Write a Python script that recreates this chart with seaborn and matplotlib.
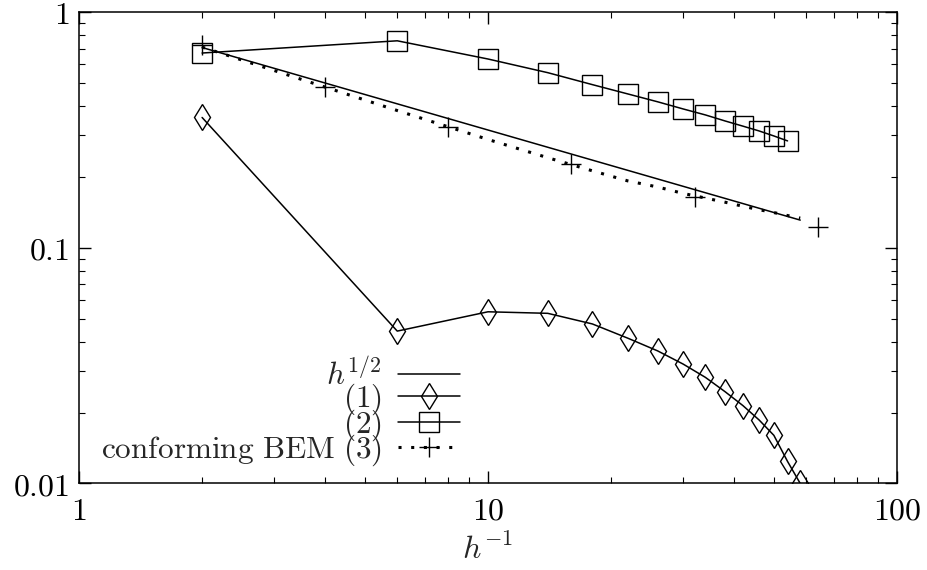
import numpy as np
import seaborn as sns
import matplotlib
matplotlib.use('Agg')
import matplotlib.pyplot as plt
from matplotlib.lines import Line2D
from matplotlib.ticker import NullFormatter, LogLocator

# h^{-1} values and errors
x_step4 = [2, 6, 10, 14, 18, 22, 26, 30, 34, 38, 42, 46, 50, 54, 58]
err_1 = [0.357, 0.0443, 0.0535, 0.0527, 0.0475, 0.0413, 0.0365, 0.0321,
         0.0282, 0.0245, 0.0214, 0.0186, 0.0160, 0.0124, 0.0100]
x_sq = [2, 6, 10, 14, 18, 22, 26, 30, 34, 38, 42, 46, 50, 54]
err_2 = [0.670, 0.755, 0.632, 0.553, 0.492, 0.449, 0.416, 0.388,
         0.366, 0.345, 0.328, 0.313, 0.298, 0.284]
err_3_line = [0.710, 0.382, 0.288, 0.241, 0.212, 0.192, 0.181, 0.170,
              0.1625, 0.156, 0.150, 0.145, 0.141, 0.137, 0.1336]
x_bem = [2, 4, 8, 16, 32, 64]
err_bem = [0.724, 0.479, 0.324, 0.2265, 0.164, 0.1225]
x_ref = [2, 58]
ref_half = [0.707, 0.131]

labels = [r'$h^{1/2}$', r'$(1)$', r'$(2)$', r'$\mathrm{conforming\ BEM\ (3)}$']

sns.set_style('ticks')
plt.rcParams['mathtext.fontset'] = 'cm'
plt.rcParams['font.family'] = ['DejaVu Serif']
plt.rcParams['axes.linewidth'] = 1.1

fig = plt.figure(figsize=(9.28, 5.70), dpi=100)
ax = fig.add_axes([0.0851, 0.1518, 0.8815, 0.8271])

lw = 1.1
dots = (0, (1.0, 3.15))
sns.lineplot(x=x_ref, y=ref_half, color='k', lw=lw, estimator=None, ax=ax)
sns.lineplot(x=x_step4, y=err_1, color='k', lw=lw, estimator=None, ax=ax,
             marker='d', markersize=12.9, markerfacecolor='none',
             markeredgecolor='k', markeredgewidth=1.0)
sns.lineplot(x=x_sq, y=err_2, color='k', lw=lw, estimator=None, ax=ax,
             marker='s', markersize=14.4, markerfacecolor='none',
             markeredgecolor='k', markeredgewidth=1.0)
sns.lineplot(x=x_step4, y=err_3_line, color='k', lw=2.2, estimator=None, ax=ax,
             linestyle=dots)
sns.scatterplot(x=x_bem, y=err_bem, color='k', marker='+', s=210,
                linewidth=1.0, ax=ax)

ax.set_xscale('log')
ax.set_yscale('log')
ax.set_xlim(1, 100)
ax.set_ylim(0.01, 1)
ax.set_xticks([1, 10, 100], labels=[r'$1$', r'$10$', r'$100$'])
ax.set_yticks([0.01, 0.1, 1], labels=[r'$0.01$', r'$0.1$', r'$1$'])
ax.xaxis.set_minor_locator(LogLocator(base=10, subs=np.arange(2, 10)))
ax.yaxis.set_minor_locator(LogLocator(base=10, subs=np.arange(2, 10)))
ax.xaxis.set_minor_formatter(NullFormatter())
ax.yaxis.set_minor_formatter(NullFormatter())
ax.tick_params(which='both', direction='in', top=True, right=True,
               labelsize=23, colors='k')
ax.tick_params(which='major', length=8.6, width=1.0)
ax.tick_params(which='minor', length=4.3, width=0.8)
ax.tick_params(axis='x', which='major', pad=9)
ax.tick_params(axis='y', which='major', pad=7)
ax.set_xlabel(r'$h^{-1}$', fontsize=23, labelpad=5)
for s in ax.spines.values():
    s.set_color('k')

handles = [
    Line2D([], [], color='k', lw=lw),
    Line2D([], [], color='k', lw=lw, marker='d', markersize=12.9,
           markerfacecolor='none', markeredgecolor='k', markeredgewidth=1.0),
    Line2D([], [], color='k', lw=lw, marker='s', markersize=14.4,
           markerfacecolor='none', markeredgecolor='k', markeredgewidth=1.0),
    Line2D([], [], color='k', lw=2.2, linestyle=dots, marker='+',
           markersize=14.4, markeredgewidth=1.0),
]
ax.legend(handles, labels, loc='lower right', bbox_to_anchor=(0.466, 0.032),
          frameon=False, markerfirst=False, numpoints=1, fontsize=22.5,
          handlelength=2.0, handletextpad=0.5, labelspacing=-0.32,
          borderpad=0, borderaxespad=0)

fig.savefig('out.png', dpi=100)
